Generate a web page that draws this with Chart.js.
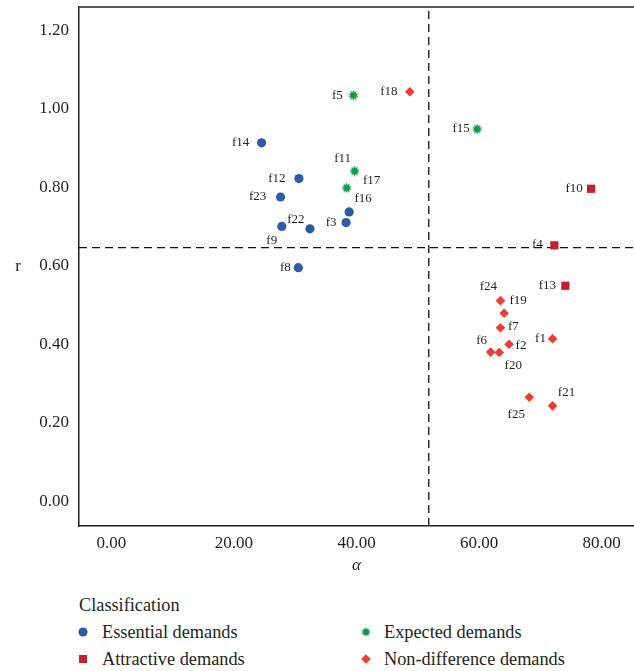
<!DOCTYPE html>
<html><head><meta charset="utf-8">
<script src="https://cdn.jsdelivr.net/npm/chart.js@4"></script>
<style>
html,body{margin:0;padding:0;background:#fff;}
#wrap{position:absolute;left:0;top:0;width:634px;height:590px;}
.lg{position:absolute;font-family:"Liberation Serif",serif;font-size:18.3px;color:#231f20;white-space:nowrap;display:flex;align-items:center;height:20px;line-height:20px;}
.ic{display:inline-block;width:10px;height:10px;}
</style></head><body>
<div id="wrap"><canvas id="c" width="634" height="590"></canvas></div>
<div class="lg" style="left:79px;top:595px;">Classification</div>
<div class="lg" style="left:78px;top:622px;"><canvas class="ic" id="ic0" width="10" height="10" style="margin-right:14px"></canvas><span>Essential demands</span></div>
<div class="lg" style="left:361px;top:622px;"><canvas class="ic" id="ic1" width="10" height="10" style="margin-right:13px"></canvas><span>Expected demands</span></div>
<div class="lg" style="left:78px;top:649px;"><canvas class="ic" id="ic2" width="10" height="10" style="margin-right:14px"></canvas><span>Attractive demands</span></div>
<div class="lg" style="left:361px;top:649px;"><canvas class="ic" id="ic3" width="10" height="10" style="margin-right:13px"></canvas><span>Non-difference demands</span></div>
<script>
// ---- data ----
const essentialNames = ['f14','f12','f23','f16','f3','f22','f9','f8'];
const essentialAlpha = [24.5, 30.6, 27.6, 38.8, 38.3, 32.4, 27.8, 30.5];
const essentialR     = [0.913, 0.822, 0.775, 0.737, 0.710, 0.694, 0.700, 0.595];

const expectedNames = ['f5','f11','f17','f15'];
const expectedAlpha = [39.5, 39.7, 38.4, 59.7];
const expectedR     = [1.034, 0.841, 0.798, 0.948];

const attractiveNames = ['f10','f4','f13'];
const attractiveAlpha = [78.3, 72.3, 74.1];
const attractiveR     = [0.796, 0.652, 0.549];

const nondiffNames = ['f18','f24','f19','f7','f2','f6','f20','f1','f25','f21'];
const nondiffAlpha = [48.7, 63.5, 64.1, 63.5, 64.9, 61.9, 63.3, 72.0, 68.2, 72.0];
const nondiffR     = [1.043, 0.511, 0.479, 0.442, 0.400, 0.380, 0.379, 0.414, 0.265, 0.243];

const alphaMean = 51.8;   // vertical reference line
const rMean = 0.646;      // horizontal reference line

const xTicks = [0, 20, 40, 60, 80];
const yTicks = [0, 0.2, 0.4, 0.6, 0.8, 1.0, 1.2];
const xMin = -5.3, xMax = 85.3, yMin = -0.063, yMax = 1.259;

// ---- styles ----
const FONT = "'Liberation Serif','DejaVu Serif',serif";
const TEXT = '#231f20';
const cBlue = '#2c5ca8', cGreen = '#109a50', cSquare = '#c3202b', cDiamond = '#ee3b36';

// label offsets (px) relative to point
const labelOffsets = {
  f14:[-21,0], f12:[-22,0], f23:[-23,0], f16:[14,-13], f3:[-15,0], f22:[-14,-9], f9:[-10,14], f8:[-13,0],
  f5:[-16,0], f11:[-12,-13], f17:[25,-7], f15:[-16,-1],
  f10:[-17,0], f4:[-17,-1], f13:[-18,0],
  f18:[-21,0], f24:[-12,-14], f19:[14,-13], f7:[13,-1], f2:[12,1], f6:[-9,-12], f20:[14,13], f1:[-12,0], f25:[-13,17], f21:[14,-13]
};

function makeStar(size, color){
  const cv = document.createElement('canvas');
  cv.width = size; cv.height = size;
  drawStar(cv.getContext('2d'), size/2, size/2, size/2, size/2*0.55, color);
  return cv;
}
function drawStar(ctx, cx, cy, ro, ri, color){
  const n = 10;
  ctx.beginPath();
  for (let i = 0; i < 2*n; i++){
    const r = i % 2 ? ri : ro;
    const a = -Math.PI/2 + i*Math.PI/n;
    const px = cx + r*Math.cos(a), py = cy + r*Math.sin(a);
    if (i===0) ctx.moveTo(px,py); else ctx.lineTo(px,py);
  }
  ctx.closePath();
  ctx.fillStyle = color; ctx.fill();
}
const starImg = makeStar(11, cGreen);

function pts(xs, ys){ return xs.map((x,i)=>({x:x, y:ys[i]})); }

const labelPlugin = {
  id:'extras',
  afterDatasetsDraw(chart){
    const ctx = chart.ctx;
    ctx.save();
    ctx.font = "13px " + FONT;
    ctx.fillStyle = TEXT;
    ctx.textAlign = 'center';
    ctx.textBaseline = 'middle';
    chart.data.datasets.forEach((ds, di)=>{
      if (!ds.names) return;
      const meta = chart.getDatasetMeta(di);
      meta.data.forEach((el, i)=>{
        const nm = ds.names[i];
        const off = labelOffsets[nm] || [0,0];
        ctx.fillText(nm, el.x + off[0], el.y + off[1]);
      });
    });
    // top frame line
    const a = chart.chartArea;
    ctx.strokeStyle = '#5a5a5a';
    ctx.lineWidth = 2;
    ctx.beginPath();
    ctx.moveTo(a.left, a.top); ctx.lineTo(a.right, a.top);
    ctx.stroke();
    // y axis title (unrotated)
    ctx.font = "17px " + FONT;
    ctx.fillText('r', 18, (a.top + a.bottom)/2);
    ctx.restore();
  }
};

function noPad(s){ s.paddingTop = 0; s.paddingBottom = 0; s.paddingLeft = 0; s.paddingRight = 0; }

new Chart(document.getElementById('c'), {
  type:'scatter',
  data:{
    datasets:[
      {label:'Essential demands', names:essentialNames, data:pts(essentialAlpha, essentialR),
       pointStyle:'circle', pointRadius:4.6, backgroundColor:cBlue, borderColor:cBlue, borderWidth:0, order:1},
      {label:'Expected demands', names:expectedNames, data:pts(expectedAlpha, expectedR),
       pointStyle:starImg, pointRadius:5, backgroundColor:cGreen, borderColor:cGreen, order:1},
      {label:'Attractive demands', names:attractiveNames, data:pts(attractiveAlpha, attractiveR),
       pointStyle:'rect', pointRadius:5.8, backgroundColor:cSquare, borderColor:cSquare, borderWidth:0, order:1},
      {label:'Non-difference demands', names:nondiffNames, data:pts(nondiffAlpha, nondiffR),
       pointStyle:'rectRot', pointRadius:4.8, backgroundColor:cDiamond, borderColor:cDiamond, borderWidth:0, order:1},
      {label:'alphaMean', data:[{x:alphaMean,y:yMin},{x:alphaMean,y:yMax}], showLine:true,
       borderColor:'#111', borderWidth:1.3, borderDash:[8,5], pointRadius:0, order:10},
      {label:'rMean', data:[{x:xMin,y:rMean},{x:xMax,y:rMean}], showLine:true,
       borderColor:'#111', borderWidth:1.3, borderDash:[8,5], pointRadius:0, order:10}
    ]
  },
  options:{
    responsive:false,
    animation:false,
    layout:{autoPadding:false, padding:{top:7,right:0,left:0,bottom:0}},
    plugins:{legend:{display:false}, tooltip:{enabled:false}},
    scales:{
      x:{
        type:'linear', min:xMin, max:xMax,
        afterBuildTicks:s=>{ s.ticks = xTicks.map(v=>({value:v})); },
        afterFit:s=>{ s.height = 64; noPad(s); },
        ticks:{callback:v=>Number(v).toFixed(2), font:{family:FONT,size:17}, color:TEXT, padding:7, maxRotation:0},
        grid:{display:false, drawTicks:false},
        border:{display:true, color:'#231f20', width:1.5},
        title:{display:true, text:'α', color:TEXT, font:{family:FONT,size:17,style:'italic'}, padding:{top:0,bottom:14}}
      },
      y:{
        type:'linear', min:yMin, max:yMax,
        afterBuildTicks:s=>{ s.ticks = yTicks.map(v=>({value:v})); },
        afterFit:s=>{ s.width = 79; noPad(s); },
        ticks:{callback:v=>Number(v).toFixed(2), font:{family:FONT,size:17}, color:TEXT, padding:10},
        grid:{display:false, drawTicks:false},
        border:{display:true, color:'#231f20', width:1.5}
      }
    }
  },
  plugins:[labelPlugin]
});

// legend icons
(function(){
  const c0 = document.getElementById('ic0').getContext('2d');
  c0.fillStyle = cBlue; c0.beginPath(); c0.arc(5,5,4.6,0,Math.PI*2); c0.fill();
  const c1 = document.getElementById('ic1').getContext('2d');
  drawStar(c1, 5, 5, 5, 2.8, cGreen);
  const c2 = document.getElementById('ic2').getContext('2d');
  c2.fillStyle = cSquare; c2.fillRect(1,1,8,8);
  const c3 = document.getElementById('ic3').getContext('2d');
  c3.fillStyle = cDiamond; c3.beginPath(); c3.moveTo(5,0.2); c3.lineTo(9.8,5); c3.lineTo(5,9.8); c3.lineTo(0.2,5); c3.closePath(); c3.fill();
})();
</script>
</body></html>
